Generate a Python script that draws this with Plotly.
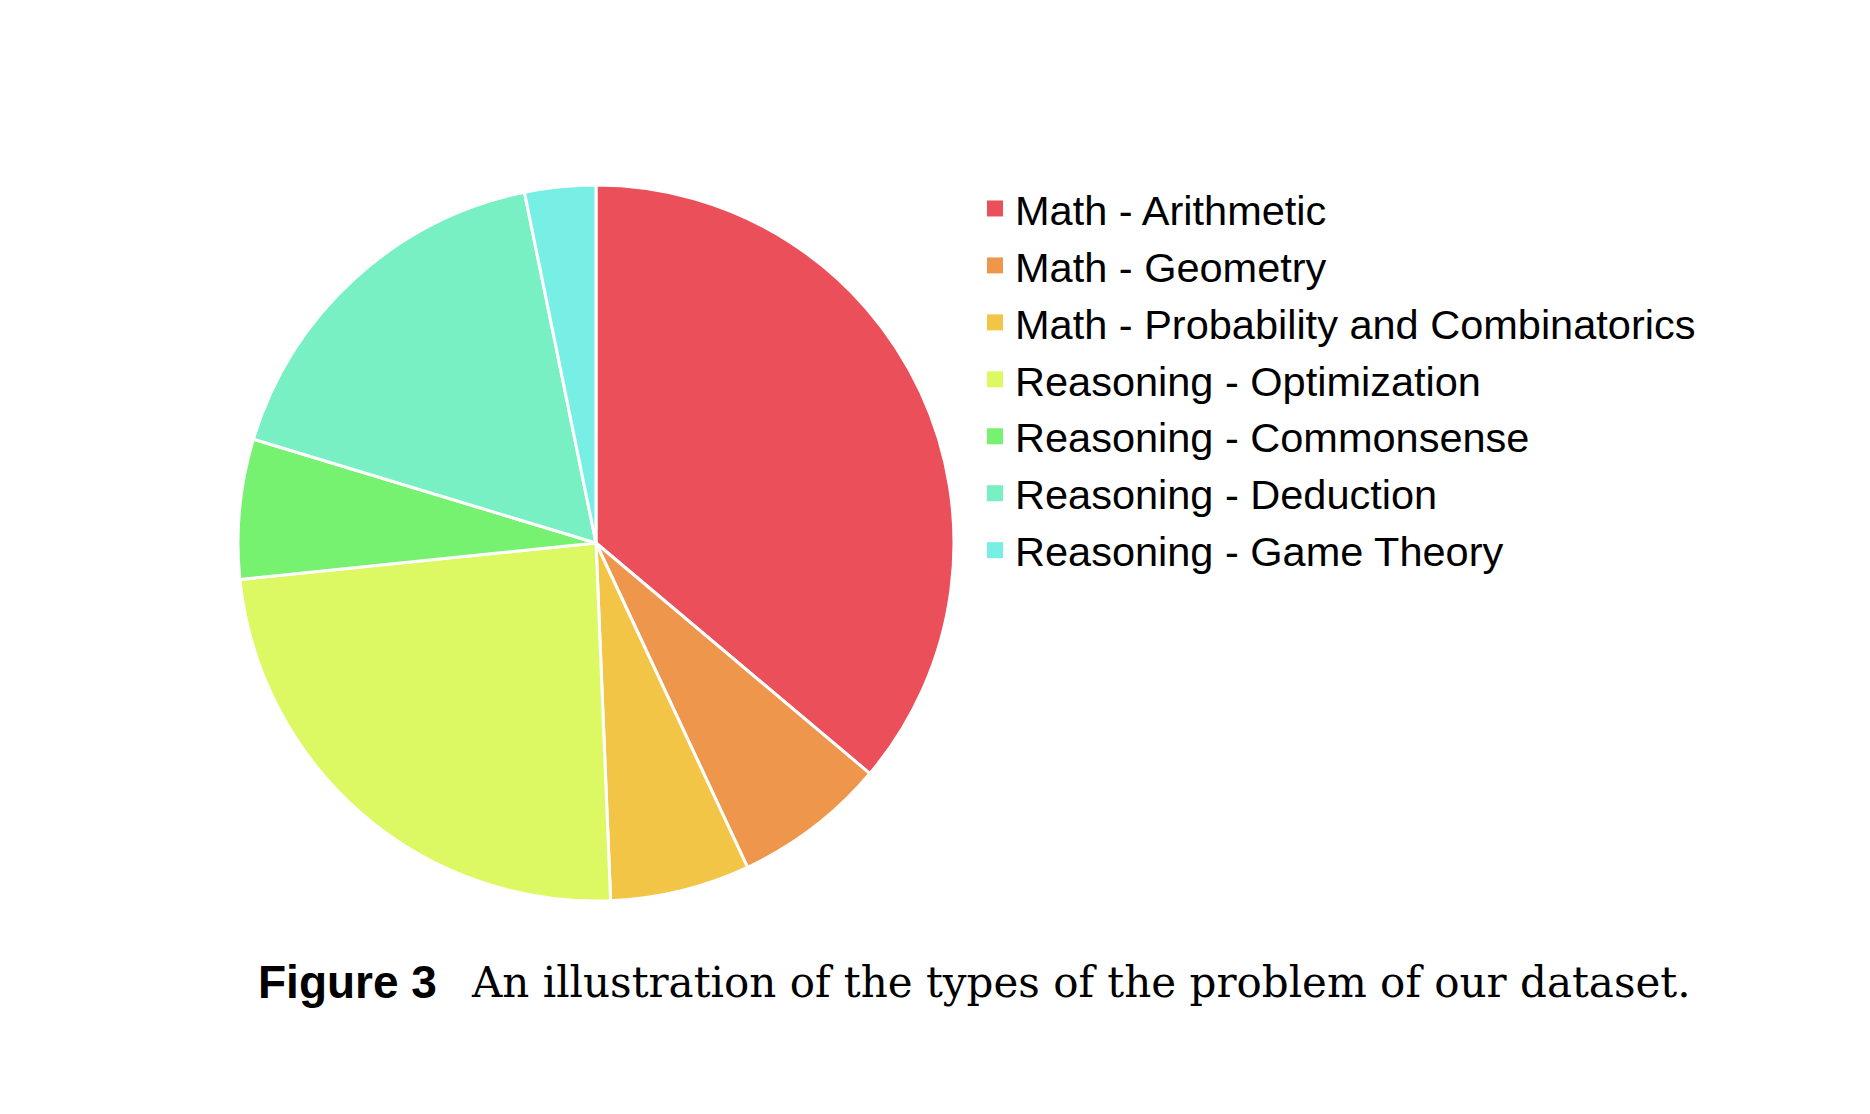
import plotly.graph_objects as go

W, H = 1870, 1114

categories = [
    "Math - Arithmetic",
    "Math - Geometry",
    "Math - Probability and Combinatorics",
    "Reasoning - Optimization",
    "Reasoning - Commonsense",
    "Reasoning - Deduction",
    "Reasoning - Game Theory",
]
shares = [36.1, 6.9, 6.3, 24.0, 6.3, 17.1, 3.2]
colors = ["#EA4F5A", "#EE964B", "#F3C546", "#DCF863", "#77F170", "#78F0C3", "#78EFE4"]

caption_bold = "Figure 3"
caption_text = "An illustration of the types of the problem of our dataset."

cx, cy, r = 596, 543, 358

fig = go.Figure()
fig.add_trace(go.Pie(
    labels=categories,
    values=shares,
    sort=False,
    direction="clockwise",
    rotation=0,
    textinfo="none",
    hoverinfo="label+percent",
    showlegend=False,
    marker=dict(colors=colors, line=dict(color="white", width=3)),
    domain=dict(x=[(cx - r) / W, (cx + r) / W], y=[1 - (cy + r) / H, 1 - (cy - r) / H]),
))

# legend entries with square swatches
for name, col in zip(categories, colors):
    fig.add_trace(go.Scatter(
        x=[None], y=[None], mode="markers", name=name,
        marker=dict(symbol="square", size=17, color=col, line=dict(width=0)),
        hoverinfo="skip", showlegend=True,
    ))

fig.update_layout(
    width=W, height=H,
    margin=dict(l=0, r=0, t=0, b=0),
    paper_bgcolor="white",
    plot_bgcolor="white",
    xaxis=dict(visible=False),
    yaxis=dict(visible=False),
    showlegend=True,
    legend=dict(
        x=975 / W, xanchor="left",
        y=1 - 175 / H, yanchor="top",
        font=dict(family="Liberation Sans, Arial", size=41.5, color="black"),
        bgcolor="rgba(0,0,0,0)",
        itemclick=False,
        itemsizing="trace",
    ),
    annotations=[
        dict(text="<b>" + caption_bold + "</b>", xref="paper", yref="paper",
             x=256 / W, y=1 - 982 / H, xanchor="left", yanchor="middle", showarrow=False,
             font=dict(family="Liberation Sans, Arial", size=46, color="black")),
        dict(text=caption_text, xref="paper", yref="paper",
             x=469 / W, y=1 - 982 / H, xanchor="left", yanchor="middle", showarrow=False,
             font=dict(family="DejaVu Serif", size=42, color="black")),
    ],
)

fig.write_html("out.html")
